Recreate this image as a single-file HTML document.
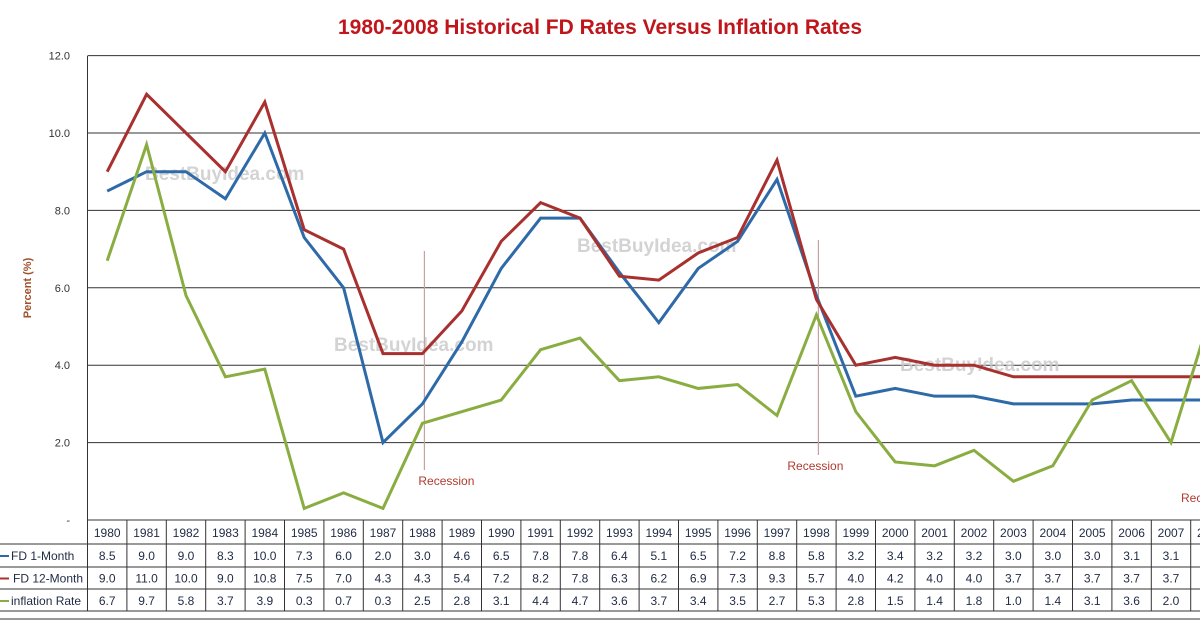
<!DOCTYPE html>
<html><head><meta charset="utf-8"><style>
body{margin:0;background:#fff;width:1200px;height:622px;overflow:hidden;font-family:"Liberation Sans",sans-serif}
</style></head><body>
<svg id="c" width="1200" height="622" xmlns="http://www.w3.org/2000/svg" font-family="Liberation Sans, sans-serif">
<text x="600" y="34" text-anchor="middle" font-size="21" font-weight="bold" fill="#c0151b">1980-2008 Historical FD Rates Versus Inflation Rates</text>
<text transform="translate(31,288) rotate(-90)" text-anchor="middle" font-size="11" font-weight="bold" fill="#a0522d">Percent (%)</text>
<g id="grid"></g><g id="wm"></g><g id="rec"></g><g id="lines"></g><g id="table"></g>
</svg>
<script>
const years=[1980,1981,1982,1983,1984,1985,1986,1987,1988,1989,1990,1991,1992,1993,1994,1995,1996,1997,1998,1999,2000,2001,2002,2003,2004,2005,2006,2007,2008];
const fd1=[8.5,9.0,9.0,8.3,10.0,7.3,6.0,2.0,3.0,4.6,6.5,7.8,7.8,6.4,5.1,6.5,7.2,8.8,5.8,3.2,3.4,3.2,3.2,3.0,3.0,3.0,3.1,3.1,3.1];
const fd12=[9.0,11.0,10.0,9.0,10.8,7.5,7.0,4.3,4.3,5.4,7.2,8.2,7.8,6.3,6.2,6.9,7.3,9.3,5.7,4.0,4.2,4.0,4.0,3.7,3.7,3.7,3.7,3.7,3.7];
const infl=[6.7,9.7,5.8,3.7,3.9,0.3,0.7,0.3,2.5,2.8,3.1,4.4,4.7,3.6,3.7,3.4,3.5,2.7,5.3,2.8,1.5,1.4,1.8,1.0,1.4,3.1,3.6,2.0,5.3];
const yTicks=[0,2,4,6,8,10,12];
const yTickLabels=["-","2.0","4.0","6.0","8.0","10.0","12.0"];
const seriesNames=["FD 1-Month","FD 12-Month","inflation Rate"];
const recessions=[1988,1998,2008];
const NS="http://www.w3.org/2000/svg";
const X0=87.5,CW=39.4,Y0=520,PU=38.7;
const x=i=>X0+CW*(i+0.5), y=v=>Y0-v*PU;
function mk(tag,at,parent,txt){const e=document.createElementNS(NS,tag);for(const k in at)e.setAttribute(k,at[k]);if(txt!==undefined)e.textContent=txt;document.getElementById(parent).appendChild(e);return e;}
yTicks.forEach((t,i)=>{
 if(t>0){const l=mk('line',{x1:X0,x2:1200,y1:y(t),y2:y(t),stroke:'#333','stroke-width':1},'grid');
 
 }
 const tx=mk('text',{x:70,y:y(t)+4,'text-anchor':'end','font-size':11,fill:'#333'},'grid',yTickLabels[i]);
 
 
});
const ax=mk('line',{x1:X0,x2:X0,y1:56,y2:611,stroke:'#333'},'grid');


[[145,180],[577,252],[334,351],[900,371]].forEach(p=>{
 const w=mk('text',{x:p[0],y:p[1],'font-size':19,'font-weight':'bold',fill:'#c8c8c8','fill-opacity':0.8},'wm','BestBuyIdea.com');
 
 
});
const recGeom=[[251,470,485],[240,455,470],[300,482,502]];
recessions.forEach((r,k)=>{
 const i=years.indexOf(r);const cx=x(i)+2;
 if(k<2){const l=mk('line',{x1:cx,x2:cx,y1:recGeom[k][0],y2:recGeom[k][1],stroke:'#c8a0a0','stroke-width':1.2},'rec');
 
 }
 const t=k<2?mk('text',{x:cx+(k==0?22:-3),y:recGeom[k][2],'text-anchor':'middle','font-size':12,fill:'#b03a2e'},'rec','Recession'):mk('text',{x:1181,y:recGeom[k][2],'text-anchor':'start','font-size':12,fill:'#b03a2e'},'rec','Recession');
 
 
});
const colors=['#2e6aa8','#a8302e','#8aad42'];
[fd1,fd12,infl].forEach((s,k)=>{
 const p=mk('polyline',{points:s.map((v,i)=>x(i)+','+y(v)).join(' '),fill:'none',stroke:colors[k],'stroke-width':3,'stroke-linejoin':'miter'},'lines');
 
 
});
const rowY=[520,544,567,589,611];
rowY.forEach((ry,i)=>{const l=mk('line',{x1:i==0?X0:0,x2:1200,y1:ry,y2:ry,stroke:'#333'},'table');
 
 });
const bl=mk('line',{x1:0,x2:1200,y1:619,y2:619,stroke:'#333'},'table');


years.forEach((yr,i)=>{
 const vx=X0+CW*(i+1);
 const l=mk('line',{x1:vx,x2:vx,y1:520,y2:611,stroke:'#333'},'table');
 
 
 const h=mk('text',{x:x(i),y:537,'text-anchor':'middle','font-size':12,fill:'#1f2a44'},'table',yr);
 
 
 [fd1,fd12,infl].forEach((s,k)=>{
  if(i==28)return;
  const t=mk('text',{x:x(i),y:560+k*22.5,'text-anchor':'middle','font-size':12,fill:'#1f2a44'},'table',s[i].toFixed(1));
  
  
 });
});
seriesNames.forEach((n,k)=>{
 const ly=556+k*22.5;
 const l=mk('line',{x1:0,x2:9,y1:ly,y2:ly,stroke:colors[k],'stroke-width':2},'table');
 
 
 const t=mk('text',{x:k==1?13:11,y:ly+4,'font-size':12,fill:'#1f2a44'},'table',n);
 
 
});
</script>
</body></html>
